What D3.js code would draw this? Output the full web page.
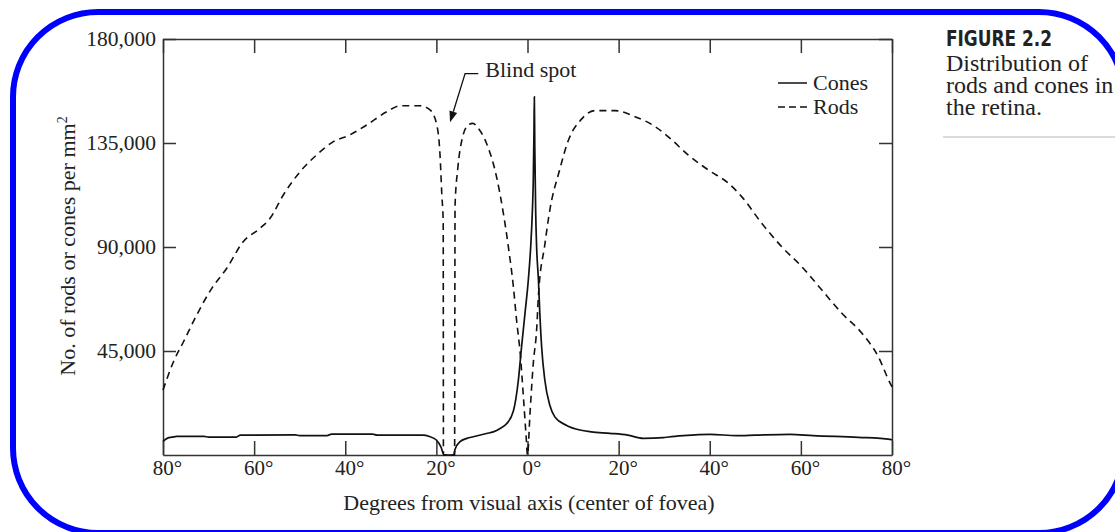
<!DOCTYPE html>
<html><head><meta charset="utf-8">
<script src="https://cdn.jsdelivr.net/npm/d3@7"></script>
<style>html,body{margin:0;padding:0;background:#fff;overflow:hidden}</style>
</head><body>
<svg id="chart" width="1115" height="532"></svg>
<script>
// ---- data (degrees from visual axis; negative = nasal side, drawn on the left) ----
const conesDeg = [-80,-79,-78,-77,-71,-70,-64,-63,-51,-50,-44,-43,-34,-33,-23,-21.5,-20,-19,-18.3,-16.2,-15.9,-14.8,-13.3,-11.9,-9,-7.5,-6,-4.6,-3.1,-2,-1.3,-0.55,0.18,0.7,1.05,1.27,1.42,1.5,1.6,1.8,2,2.4,2.7,3.1,3.8,4.9,6,8.6,11.5,14,18.1,22,25.4,29.8,31,34.2,40.1,45.9,50,57.6,62.7,72.6,79.6,80];
const conesVal = [5900,7300,7700,8100,8100,7700,7700,8600,8700,8400,8400,9000,9000,8600,8600,8000,6500,3500,0,0,2500,5750,7200,7900,9300,10000,11500,13500,19000,32450,46860,61300,75700,90100,104600,119000,140000,155000,133400,104700,90100,75700,61400,46860,32450,21500,16500,12800,10800,10000,9380,8600,7200,7500,7800,8370,8940,8370,8600,8940,8370,7660,6800,6500];
const rodsDeg = [-80,-77.7,-75.5,-72.6,-69.3,-66,-62.4,-58.7,-56.5,-53.6,-49.9,-46.3,-42.6,-39,-35.3,-30.9,-28,-23.6,-21.4,-19.9,-19.2,-18.8,-18.5,-18.45,-16,-15.95,-15.9,-15.3,-14.4,-13,-12,-10.8,-9,-6.8,-5.3,-4.2,-3.1,-2.4,-1.6,-0.9,-0.3,0,0.55,1.27,2,2.4,3.8,4.9,7,9,11.7,14.8,19.2,23.6,28,30.9,35.3,39.7,44.1,47,51.4,55.8,60.2,64.6,69,73.4,77,79.6,80];
const rodsVal = [28100,40370,49000,60580,72100,80800,92300,98100,102400,112500,122600,129800,135600,138500,142800,148500,151100,151100,149300,142800,129800,112500,100900,0,0,60000,108000,124000,136300,142800,143500,141400,134900,120400,104600,90100,72800,58400,44000,25200,8000,0,18000,39700,54100,69000,91000,106000,123000,136300,145000,149000,149000,146400,142100,137700,129800,123300,117600,111800,100300,90100,81500,71400,61300,52700,42500,31000,29500];
const xTickValues = [-80,-60,-40,-20,0,20,40,60,80];
const yTickValues = [45000,90000,135000,180000];
const legendLabels = ["Cones","Rods"];
const captionTitle = "FIGURE 2.2";
const captionLines = ["Distribution of","rods and cones in","the retina."];

const svg = d3.select("#chart");
const serif = "'Liberation Serif','Times New Roman',serif";
const ink = "#333";

svg.append("rect").attr("width",1115).attr("height",532).attr("fill","#fff");

// blue rounded frame
svg.append("rect").attr("x",13).attr("y",12).attr("width",1111).attr("height",521)
  .attr("rx",85).attr("ry",85).attr("fill","none").attr("stroke","#0000ff").attr("stroke-width",6);

const x = d3.scaleLinear().domain([-80,80]).range([163,892]);
const y = d3.scaleLinear().domain([0,180000]).range([455,39]);

function styleAxis(g){
  g.selectAll(".domain").attr("stroke",ink).attr("stroke-width",1.5);
  g.selectAll(".tick line").attr("stroke",ink).attr("stroke-width",1.5);
  g.selectAll("text").attr("font-family",serif).attr("fill","#222");
}

// bottom axis
const gx = svg.append("g").attr("transform",`translate(0,${y(0)})`)
  .call(d3.axisBottom(x).tickValues(xTickValues).tickSizeInner(-14).tickSizeOuter(0).tickPadding(5)
    .tickFormat(d=>Math.abs(d)+"\u00B0"));
styleAxis(gx);
gx.selectAll("text").attr("font-size",21).attr("dx",4);
// top axis
const gt = svg.append("g").attr("transform",`translate(0,${y(180000)})`)
  .call(d3.axisTop(x).tickValues(xTickValues).tickSizeInner(-14).tickSizeOuter(0).tickFormat(""));
styleAxis(gt);
// left axis
const gy = svg.append("g").attr("transform",`translate(${x(-80)},0)`)
  .call(d3.axisLeft(y).tickValues(yTickValues).tickSizeInner(-13).tickSizeOuter(0).tickPadding(7)
    .tickFormat(d3.format(",")));
styleAxis(gy);
gy.selectAll("text").attr("font-size",21.5);
// right axis
const gr = svg.append("g").attr("transform",`translate(${x(80)},0)`)
  .call(d3.axisRight(y).tickValues(yTickValues).tickSizeInner(-13).tickSizeOuter(0).tickFormat(""));
styleAxis(gr);

// curves
const line = d3.line().x(d=>x(d[0])).y(d=>y(d[1])).curve(d3.curveMonotoneX);
const rods = rodsDeg.map((d,i)=>[d,rodsVal[i]]);
const cones = conesDeg.map((d,i)=>[d,conesVal[i]]);
svg.append("path").datum(rods).attr("d",line).attr("fill","none")
  .attr("stroke","#111").attr("stroke-width",1.6).attr("stroke-dasharray","7,5");
svg.append("path").datum(cones).attr("d",line).attr("fill","none")
  .attr("stroke","#111").attr("stroke-width",1.7);

// axis titles
svg.append("text").attr("x",529).attr("y",510).attr("text-anchor","middle")
  .attr("font-family",serif).attr("font-size",22).attr("fill","#222")
  .text("Degrees from visual axis (center of fovea)");
const yt = svg.append("text").attr("transform","translate(75,246) rotate(-90)")
  .attr("text-anchor","middle").attr("font-family",serif).attr("font-size",22).attr("fill","#222");
yt.append("tspan").text("No. of rods or cones per mm");
yt.append("tspan").attr("font-size",14).attr("dy",-8).text("2");

// blind spot annotation
const tip = [x(-17), y(144000)];
const elbow = [x(-13.7), y(165000)];
const start = [x(-10.8), y(165000)];
svg.append("text").attr("x",start[0]+7).attr("y",77).attr("font-family",serif)
  .attr("font-size",22).attr("fill","#222").text("Blind spot");
const dx = tip[0]-elbow[0], dy = tip[1]-elbow[1], L = Math.hypot(dx,dy);
const ux = dx/L, uy = dy/L, ah = 11, aw = 4;
const base = [tip[0]-ux*ah, tip[1]-uy*ah];
svg.append("path").attr("d",`M${start[0]},${start[1]}L${elbow[0]},${elbow[1]}L${base[0]},${base[1]}`)
  .attr("fill","none").attr("stroke","#111").attr("stroke-width",1.3);
svg.append("path").attr("d",`M${tip[0]},${tip[1]}L${base[0]-uy*aw},${base[1]+ux*aw}L${base[0]+uy*aw},${base[1]-ux*aw}Z`)
  .attr("fill","#111");

// legend
const leg = svg.append("g");
legendLabels.forEach((lab,i)=>{
  const ly = 83 + i*24;
  leg.append("line").attr("x1",778).attr("x2",807).attr("y1",ly).attr("y2",ly)
    .attr("stroke","#111").attr("stroke-width",1.5)
    .attr("stroke-dasharray", i===1 ? "7,4" : null);
  leg.append("text").attr("x",813).attr("y",ly+6.5).attr("font-family",serif)
    .attr("font-size",22).attr("fill","#222").text(lab);
});

// caption
svg.append("text").attr("x",946).attr("y",46)
  .attr("font-family","'Liberation Sans Narrow','DejaVu Sans Condensed','Arial Narrow',sans-serif")
  .attr("font-weight","bold").attr("font-size",22).attr("fill","#222")
  .attr("textLength",106).attr("lengthAdjust","spacingAndGlyphs").text(captionTitle);
captionLines.forEach((t,i)=>{
  svg.append("text").attr("x",946).attr("y",71+i*22).attr("font-family",serif)
    .attr("font-size",24).attr("fill","#222").text(t);
});
svg.append("line").attr("x1",943).attr("x2",1115).attr("y1",137).attr("y2",137)
  .attr("stroke","#cfcfcf").attr("stroke-width",1.5);
</script>
</body></html>
